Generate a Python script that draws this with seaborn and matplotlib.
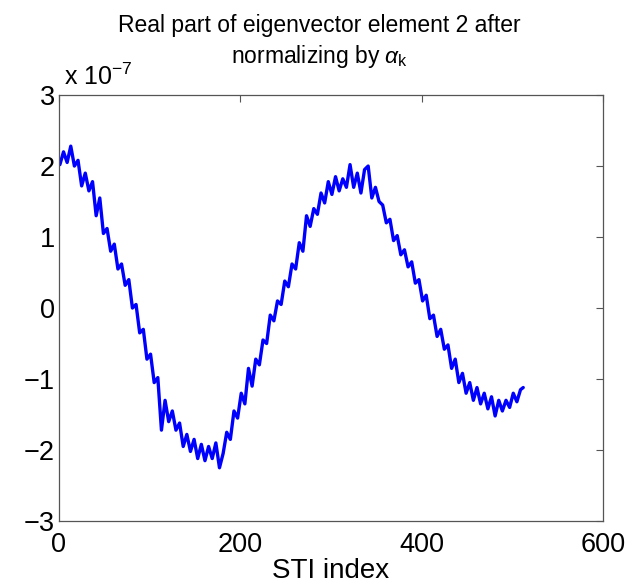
import matplotlib
matplotlib.use("Agg")
import matplotlib.pyplot as plt
import seaborn as sns
import pandas as pd

sti_index = list(range(1, 510, 4)) + [512]
real_part = [
    2.02, 2.2, 2.05, 2.28, 2.0, 2.08, 1.72, 1.9, 1.65, 1.78,
    1.3, 1.55, 1.05, 1.12, 0.8, 0.9, 0.55, 0.62, 0.32, 0.4,
    0.0, 0.05, -0.35, -0.3, -0.72, -0.65, -1.05, -0.98, -1.72, -1.3,
    -1.6, -1.45, -1.72, -1.62, -1.95, -1.78, -2.02, -1.85, -2.12, -1.92,
    -2.15, -1.95, -2.12, -1.9, -2.25, -2.05, -1.75, -1.85, -1.45, -1.55,
    -1.2, -1.35, -0.85, -1.1, -0.72, -0.8, -0.45, -0.5, -0.1, -0.18,
    0.1, 0.05, 0.38, 0.3, 0.62, 0.55, 0.92, 0.8, 1.3, 1.15,
    1.4, 1.32, 1.62, 1.48, 1.78, 1.6, 1.85, 1.65, 1.82, 1.7,
    2.02, 1.7, 1.9, 1.62, 1.95, 2.0, 1.55, 1.7, 1.5, 1.45,
    1.2, 1.25, 0.95, 1.02, 0.75, 0.82, 0.58, 0.65, 0.35, 0.4,
    0.1, 0.18, -0.15, -0.1, -0.4, -0.3, -0.58, -0.52, -0.85, -0.72,
    -1.05, -0.92, -1.2, -1.05, -1.3, -1.12, -1.35, -1.2, -1.42, -1.25,
    -1.52, -1.3, -1.45, -1.3, -1.4, -1.2, -1.32, -1.15, -1.12,
]
n = min(len(sti_index), len(real_part))
df = pd.DataFrame({"STI index": sti_index[:n], "value": real_part[:n]})

x_ticks = [0, 200, 400, 600]
y_ticks = [-3, -2, -1, 0, 1, 2, 3]

sns.set_style("white")
plt.rcParams["font.family"] = ["Liberation Sans", "DejaVu Sans"]
plt.rcParams["mathtext.fontset"] = "custom"
plt.rcParams["mathtext.rm"] = "Liberation Sans"
plt.rcParams["mathtext.it"] = "Liberation Sans:italic"
plt.rcParams["text.color"] = "black"
plt.rcParams["axes.labelcolor"] = "black"

fig = plt.figure(figsize=(6.39, 5.83), dpi=100)
ax = fig.add_axes([0.0923, 0.1063, 0.8514, 0.7307])

sns.lineplot(data=df, x="STI index", y="value", ax=ax, color=(0, 0, 1),
             linewidth=2.4, estimator=None)

ax.set_xlim(0, 600)
ax.set_ylim(-3, 3)
ax.set_xticks(x_ticks)
ax.set_yticks(y_ticks)
ax.set_xticklabels([str(t) for t in x_ticks])
ax.set_yticklabels([str(t).replace("-", "\u2212") for t in y_ticks])
ax.tick_params(direction="in", length=5, width=0.8, colors="#555555",
               labelcolor="black", labelsize=19.5, top=True, right=True)
ax.tick_params(axis="x", pad=8)
ax.tick_params(axis="y", pad=3)
for s in ax.spines.values():
    s.set_color("#555555")
    s.set_linewidth(0.9)

ax.set_xlabel("STI index", fontsize=20, labelpad=0)
ax.set_ylabel("")
fig.text(0.5, 0.928,
         "Real part of eigenvector element 2 after\nnormalizing by $\\alpha_{\\mathrm{k}}$",
         fontsize=16.5, ha="center", va="center", linespacing=1.3)
ax.text(0.01, 1.012, "x $10^{-7}$", transform=ax.transAxes, fontsize=18,
        ha="left", va="bottom")

fig.savefig("out.png", dpi=100)
